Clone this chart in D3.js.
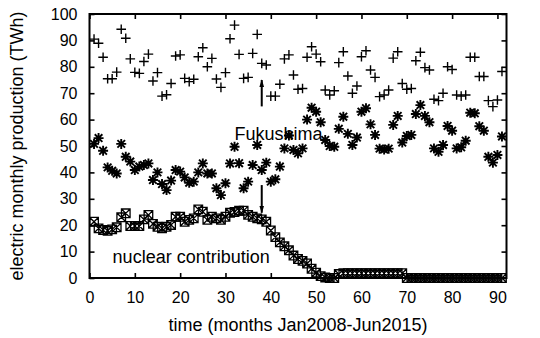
<!DOCTYPE html>
<html>
<head>
<meta charset="utf-8">
<script src="https://cdn.jsdelivr.net/npm/d3@7/dist/d3.min.js"></script>
<style>
  html, body { margin: 0; padding: 0; background: #fff; }
  svg { display: block; }
  text { font-family: "Liberation Sans", Arial, Helvetica, sans-serif; fill: #000; }
</style>
</head>
<body>
<svg id="chart" width="540" height="338"></svg>
<script>
// Monthly electricity production in Japan (TWh), month 1 = Jan 2008
const totalProduction = [
  90.5, 88.9, 83.6, 75.5, 75.5, 78.0, 94.2, 90.8, 83.0, 77.9,
  77.5, 82.0, 84.8, 74.6, 77.8, 68.9, 69.4, 73.7, 84.1, 84.5,
  75.6, 74.4, 75.3, 83.8, 87.2, 80.0, 83.2, 75.4, 72.2, 77.8,
  90.6, 95.8, 84.7, 75.6, 76.0, 85.1, 92.3, 81.3, 80.7, 68.9,
  68.9, 73.4, 83.0, 84.5, 76.9, 71.5, 71.8, 83.6, 87.6, 84.8,
  81.9, 71.2, 69.3, 70.9, 81.6, 85.7, 76.5, 70.0, 72.7, 83.8,
  86.1, 78.8, 76.0, 68.7, 69.3, 71.2, 83.3, 85.7, 73.7, 71.5,
  71.8, 82.3, 85.5, 79.7, 78.8, 67.7, 67.2, 70.0, 80.0, 79.0,
  69.3, 68.9, 69.3, 83.6, 83.6, 76.3, 76.3, 67.2, 64.9, 67.4,
  78.2
];
const thermalProduction = [
  50.8, 53.0, 48.2, 41.9, 40.6, 39.6, 50.8, 45.9, 44.1, 40.9,
  42.2, 42.8, 43.4, 37.1, 40.0, 35.6, 33.3, 36.9, 40.9, 40.3,
  38.1, 36.1, 36.5, 40.0, 43.4, 39.6, 39.6, 34.0, 31.4, 35.9,
  43.4, 49.7, 43.5, 34.0, 36.5, 42.8, 50.4, 40.9, 43.7, 36.5,
  37.4, 42.2, 49.1, 54.0, 48.5, 47.2, 49.1, 60.0, 64.5, 63.0,
  59.0, 52.3, 50.0, 49.7, 56.5, 61.1, 54.6, 50.4, 53.2, 63.0,
  64.3, 58.2, 54.2, 49.0, 48.7, 49.0, 58.0, 61.4, 51.3, 53.8,
  54.2, 62.1, 65.5, 61.4, 59.0, 49.1, 47.8, 50.4, 57.6, 55.8,
  49.1, 49.5, 52.0, 62.6, 62.4, 57.5, 55.8, 45.9, 43.7, 46.6,
  53.6
];
const nuclearProduction = [
  21.3, 18.8, 18.2, 17.9, 18.4, 19.2, 23.0, 24.5, 19.7, 19.7,
  19.7, 22.2, 23.9, 20.5, 19.4, 18.8, 19.4, 20.1, 23.2, 23.2,
  21.3, 22.0, 22.6, 26.0, 25.1, 22.0, 23.2, 22.6, 22.0, 23.2,
  24.7, 25.0, 25.5, 25.5, 23.9, 23.2, 22.6, 22.2, 21.3, 18.0,
  15.5, 13.5, 12.0, 10.5,  8.5,  7.2,  6.5,  5.5,  3.5,  2.0,
   0.7,  0.2,  0.0,  0.0,  1.5,  1.8,  1.8,  1.8,  1.8,  1.8,
   1.8,  1.8,  1.8,  1.8,  1.8,  1.8,  1.8,  1.8,  1.8,  0.0,
   0.0,  0.0,  0.0,  0.0,  0.0,  0.0,  0.0,  0.0,  0.0,  0.0,
   0.0,  0.0,  0.0,  0.0,  0.0,  0.0,  0.0,  0.0,  0.0,  0.0,
   0.0
];

const xTicks = [0, 10, 20, 30, 40, 50, 60, 70, 80, 90];
const yTicks = [0, 10, 20, 30, 40, 50, 60, 70, 80, 90, 100];

const xTitle = "time (months Jan2008-Jun2015)";
const yTitle = "electric monthly production (TWh)";

// Annotations in data coordinates
const fukushimaMonth = 38;
const fukushimaLabel = { text: "Fukushima", x: 32, y: 52.3 };
const nuclearLabel = { text: "nuclear contribution", x: 5.1, y: 5.6 };
const arrowUp = { from: 65, to: 75 };
const arrowDown = { from: 35.2, to: 24.7 };

const svg = d3.select("#chart");
const x = d3.scaleLinear().domain([0, 92]).range([89.5, 506.5]);
const y = d3.scaleLinear().domain([0, 100]).range([278, 14]);

const tickLen = 5;

// Axes with inward ticks on all four sides
const gB = svg.append("g").attr("transform", `translate(0,${y(0)})`)
  .call(d3.axisBottom(x).tickValues(xTicks).tickSize(-tickLen).tickPadding(14));
const gT = svg.append("g").attr("transform", `translate(0,${y(100)})`)
  .call(d3.axisTop(x).tickValues(xTicks).tickSize(-tickLen).tickFormat(""));
const gL = svg.append("g").attr("transform", `translate(${x(0)},0)`)
  .call(d3.axisLeft(y).tickValues(yTicks).tickSize(-tickLen).tickPadding(12));
const gR = svg.append("g").attr("transform", `translate(${x(92)},0)`)
  .call(d3.axisRight(y).tickValues(yTicks).tickSize(-tickLen).tickFormat(""));

[gB, gT, gL, gR].forEach(g => {
  g.select(".domain").remove();
  g.selectAll(".tick line").attr("stroke", "#000").attr("stroke-width", 1.6);
  g.selectAll(".tick text").attr("font-size", 16).attr("fill", "#000")
    .attr("font-family", '"Liberation Sans", Arial, sans-serif');
});

// Plot border
svg.append("rect")
  .attr("x", x(0)).attr("y", y(100))
  .attr("width", x(92) - x(0)).attr("height", y(0) - y(100))
  .attr("fill", "none").attr("stroke", "#000").attr("stroke-width", 2);

// Axis titles
svg.append("text")
  .attr("x", (x(0) + x(92)) / 2).attr("y", 331)
  .attr("text-anchor", "middle").attr("font-size", 18)
  .text(xTitle);
svg.append("text")
  .attr("transform", `translate(23,${(y(0) + y(100)) / 2}) rotate(-90)`)
  .attr("text-anchor", "middle").attr("font-size", 18)
  .text(yTitle);

const toPoints = arr => arr.map((v, i) => ({ m: i + 1, v }));

// Total production: plus markers
const pr = 4.8;
svg.append("g").selectAll("path").data(toPoints(totalProduction)).join("path")
  .attr("transform", d => `translate(${x(d.m)},${y(d.v)})`)
  .attr("d", `M${-pr},0H${pr}M0,${-pr}V${pr}`)
  .attr("stroke", "#000").attr("stroke-width", 1.4).attr("fill", "none");

// Thermal production: asterisk markers
const ar = 5, ad = 3.8;
svg.append("g").selectAll("path").data(toPoints(thermalProduction)).join("path")
  .attr("transform", d => `translate(${x(d.m)},${y(d.v)})`)
  .attr("d", `M${-ar},0H${ar}M0,${-ar}V${ar}M${-ad},${-ad}L${ad},${ad}M${-ad},${ad}L${ad},${-ad}`)
  .attr("stroke", "#000").attr("stroke-width", 1.9).attr("fill", "none");

// Nuclear production: open boxes with a cross inside
const br = 4.3;
svg.append("g").selectAll("path").data(toPoints(nuclearProduction)).join("path")
  .attr("transform", d => `translate(${x(d.m)},${y(d.v)})`)
  .attr("d", `M${-br},${-br}H${br}V${br}H${-br}ZM${-br},${-br}L${br},${br}M${-br},${br}L${br},${-br}`)
  .attr("fill", "none").attr("stroke", "#000").attr("stroke-width", 1.3);

// Arrows marking Fukushima
svg.append("defs").append("marker")
  .attr("id", "head").attr("viewBox", "0 0 10 10")
  .attr("refX", 9).attr("refY", 5)
  .attr("markerWidth", 8).attr("markerHeight", 8)
  .attr("markerUnits", "userSpaceOnUse")
  .attr("orient", "auto")
  .append("path").attr("d", "M0,2L10,5L0,8Z").attr("fill", "#000");

[arrowUp, arrowDown].forEach(a => {
  svg.append("line")
    .attr("x1", x(fukushimaMonth)).attr("x2", x(fukushimaMonth))
    .attr("y1", y(a.from)).attr("y2", y(a.to))
    .attr("stroke", "#000").attr("stroke-width", 2)
    .attr("marker-end", "url(#head)");
});

// Labels
svg.append("text")
  .attr("x", x(fukushimaLabel.x)).attr("y", y(fukushimaLabel.y))
  .attr("font-size", 18).text(fukushimaLabel.text);
svg.append("text")
  .attr("x", x(nuclearLabel.x)).attr("y", y(nuclearLabel.y))
  .attr("font-size", 18).text(nuclearLabel.text);
</script>
</body>
</html>
